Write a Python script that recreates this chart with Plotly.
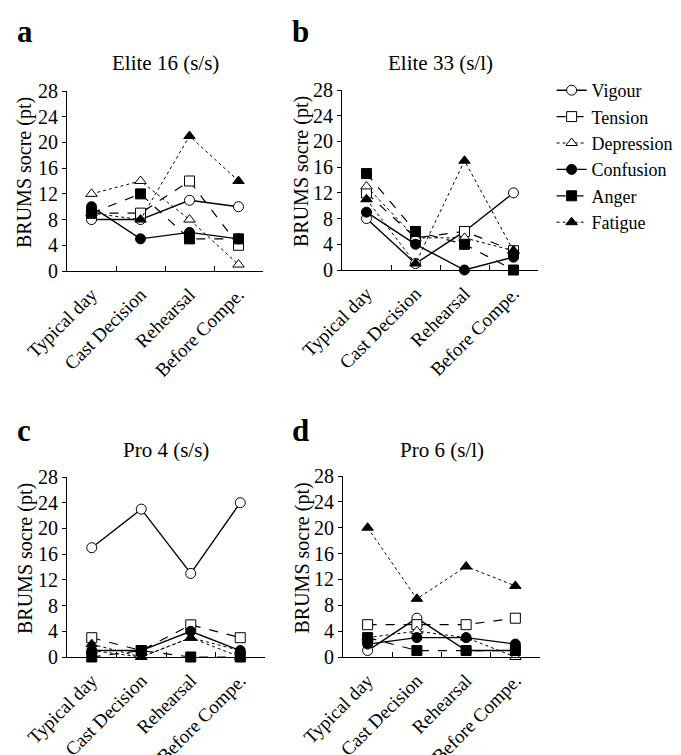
import plotly.graph_objects as go

categories = ["Typical day", "Cast Decision", "Rehearsal", "Before Compe."]
series_names = ["Vigour", "Tension", "Depression", "Confusion", "Anger", "Fatigue"]

elite16 = {
    "Vigour": [8, 8, 11, 10],
    "Tension": [9, 9, 14, 4],
    "Depression": [12, 14, 8, 1],
    "Confusion": [10, 5, 6, 5],
    "Anger": [9, 12, 5, 5],
    "Fatigue": [9, 8, 21, 14],
}
elite33 = {
    "Vigour": [8, 1, 6, 12],
    "Tension": [12, 5, 6, 3],
    "Depression": [13, 5, 5, 3],
    "Confusion": [9, 4, 0, 2],
    "Anger": [15, 6, 4, 0],
    "Fatigue": [11, 1, 17, 3],
}
pro4 = {
    "Vigour": [17, 23, 13, 24],
    "Tension": [3, 1, 5, 3],
    "Depression": [1, 0, 3, 0],
    "Confusion": [1, 1, 4, 1],
    "Anger": [0, 1, 0, 0],
    "Fatigue": [2, 0, 3, 1],
}
pro6 = {
    "Vigour": [1, 6, 1, 1],
    "Tension": [5, 5, 5, 6],
    "Depression": [3, 4, 3, 0],
    "Confusion": [2, 3, 3, 2],
    "Anger": [3, 1, 1, 1],
    "Fatigue": [20, 9, 14, 11],
}
panels = [
    ("a", "Elite 16 (s/s)", elite16),
    ("b", "Elite 33 (s/l)", elite33),
    ("c", "Pro 4 (s/s)", pro4),
    ("d", "Pro 6 (s/l)", pro6),
]
y_title = "BRUMS socre (pt)"

styles = {
    "Vigour": dict(dash="solid", symbol="circle", fill="white", width=1.4),
    "Tension": dict(dash="dash", symbol="square", fill="white", width=1.2),
    "Depression": dict(dash="dot", symbol="triangle-up", fill="white", width=1.0),
    "Confusion": dict(dash="solid", symbol="circle", fill="black", width=1.4),
    "Anger": dict(dash="dash", symbol="square", fill="black", width=1.2),
    "Fatigue": dict(dash="dot", symbol="triangle-up", fill="black", width=1.0),
}

W, H = 681, 755
def px_x(a, b):
    return [a / W, b / W]
def px_y(top, bottom):
    return [1 - bottom / H, 1 - top / H]

# (x-domain, y-domain, letter position, title y, y-title x)
domains = [
    (px_x(67, 263), px_y(91, 271), (15, 32), 63, 25),
    (px_x(342, 538), px_y(90, 270), (290, 32), 63, 301),
    (px_x(67, 265), px_y(477, 657), (15, 430), 450, 25),
    (px_x(343, 540), px_y(476, 657), (290, 430), 450, 302),
]

FONT = "'Liberation Serif', 'Times New Roman', 'DejaVu Serif', serif"
fig = go.Figure()
layout = dict(
    template="none",
    width=W, height=H, margin=dict(l=0, r=0, t=0, b=0, autoexpand=False),
    paper_bgcolor="white", plot_bgcolor="white",
    font=dict(family=FONT, color="black", size=16),
    showlegend=True,
    legend=dict(x=0.81, y=1 - 72 / H, xanchor="left", yanchor="top",
                font=dict(family=FONT, size=18, color="black"), tracegroupgap=0,
                itemwidth=30, bgcolor="rgba(0,0,0,0)", borderwidth=0),
)
annotations = []
for i, (letter, title, data) in enumerate(panels):
    xa = "x" if i == 0 else f"x{i+1}"
    ya = "y" if i == 0 else f"y{i+1}"
    for name in series_names:
        s = styles[name]
        fig.add_trace(go.Scatter(
            x=categories, y=data[name], name=name, xaxis=xa, yaxis=ya,
            mode="lines+markers", showlegend=(i == 0), legendgroup=name,
            line=dict(color="black", dash=s["dash"], width=s["width"]),
            marker=dict(symbol=s["symbol"], size=10, color=s["fill"],
                        line=dict(color="black", width=1)),
            cliponaxis=False,
        ))
    xd, yd, (lx, ly), ty, ytx = domains[i]
    layout["xaxis" if i == 0 else f"xaxis{i+1}"] = dict(
        domain=xd, anchor=ya, type="category", range=[-0.5, 3.5], automargin=False,
        tickson="boundaries", ticks="inside", ticklen=5, tickcolor="black",
        showline=True, linecolor="black", linewidth=1, showgrid=False,
        tickangle=-45, tickfont=dict(family=FONT, size=19, color="black"), zeroline=False,
        ticklabelstandoff=4,
    )
    layout["yaxis" if i == 0 else f"yaxis{i+1}"] = dict(
        domain=yd, anchor=xa, range=[0, 28], dtick=4, tick0=0, automargin=False,
        ticks="outside", ticklen=4, tickcolor="black",
        showline=True, linecolor="black", linewidth=1, showgrid=False,
        zeroline=False, tickfont=dict(family=FONT, size=20, color="black"),
    )
    cx = (xd[0] + xd[1]) / 2
    cy = (yd[0] + yd[1]) / 2 + 8 / H
    annotations.append(dict(text=title, x=cx, y=1 - ty / H, xref="paper", yref="paper",
                            xanchor="center", yanchor="middle", showarrow=False,
                            font=dict(family=FONT, size=21, color="black")))
    annotations.append(dict(text=y_title, x=ytx / W, y=cy, xref="paper", yref="paper",
                            xanchor="center", yanchor="middle", showarrow=False, textangle=-90,
                            font=dict(family=FONT, size=20, color="black")))
    annotations.append(dict(text=f"<b>{letter}</b>", x=lx / W, y=1 - ly / H, xref="paper", yref="paper",
                            xanchor="left", yanchor="middle", showarrow=False,
                            font=dict(family=FONT, size=31, color="black")))
layout["annotations"] = annotations
fig.update_layout(**layout)
fig.write_html("out.html")
